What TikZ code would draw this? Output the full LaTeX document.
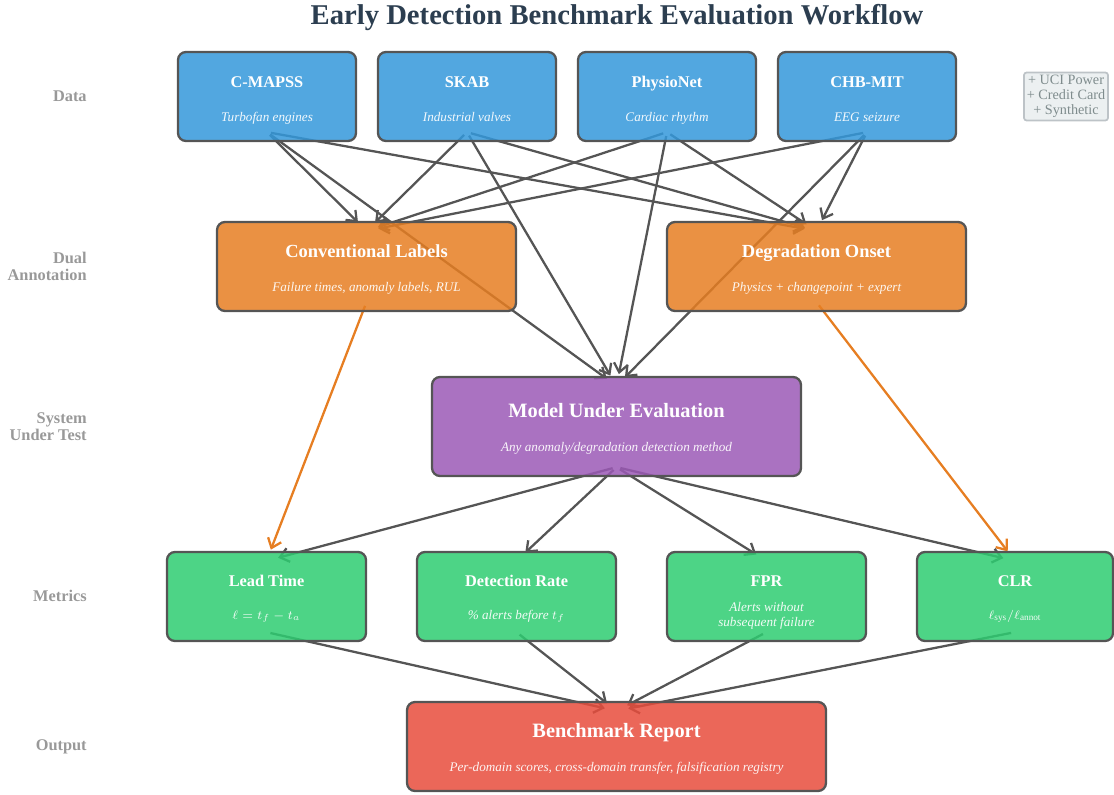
\documentclass[tikz,border=0pt]{standalone}
\usepackage{fontspec}
\setmainfont{Liberation Serif}
\usetikzlibrary{positioning, arrows.meta}
\pgfdeclarelayer{background}
\pgfsetlayers{background,main}

\definecolor{dataBlue}{HTML}{3498DB}
\definecolor{annotOrange}{HTML}{E67E22}
\definecolor{modelPurple}{HTML}{9B59B6}
\definecolor{metricGreen}{HTML}{2ECC71}
\definecolor{reportRed}{HTML}{E74C3C}
\definecolor{edgeGray}{HTML}{555555}
\definecolor{titleNavy}{HTML}{2C3E50}
\definecolor{rowGray}{HTML}{999999}
\definecolor{noteFill}{HTML}{ECF0F1}
\definecolor{noteEdge}{HTML}{BDC3C7}
\definecolor{noteText}{HTML}{7F8C8D}

\begin{document}
\begin{tikzpicture}[
		x=0.02cm, y=-0.02cm,
		box/.style={draw=edgeGray, line width=1.3pt, rounded corners=4.5pt, fill opacity=0.85, minimum height=1.78cm},
		dataset/.style={box, fill=dataBlue, minimum width=3.56cm},
		annot/.style={box, fill=annotOrange, minimum width=5.98cm},
		model/.style={box, fill=modelPurple, minimum width=7.38cm, minimum height=1.98cm},
		metric/.style={box, fill=metricGreen, minimum width=3.98cm},
		report/.style={box, fill=reportRed, minimum width=8.38cm},
		head/.style={anchor=base, text=white, inner sep=0pt, font=\fontsize{9.3}{11}\selectfont\bfseries},
		bighead/.style={head, font=\fontsize{10.5}{12}\selectfont\bfseries},
		hugehead/.style={head, font=\fontsize{11.6}{13}\selectfont\bfseries},
		sub/.style={anchor=base, text=white, text opacity=0.92, inner sep=0pt, align=center, font=\fontsize{7.5}{8.6}\selectfont\itshape},
		rowlabel/.style={anchor=east, align=right, inner sep=0pt, text=rowGray, font=\fontsize{9.3}{9.7}\selectfont\bfseries},
		flow/.style={draw=edgeGray, line width=1.3pt, -{Straight Barb[length=5pt,width=8pt]}, shorten <=0.08cm, shorten >=0.24cm},
		annflow/.style={flow, draw=annotOrange}
		]
		\useasboundingbox (0,0) rectangle (1114,794);
		
		% --- Title and row labels ---
		\node[text=titleNavy, font=\fontsize{16.3}{18}\selectfont\bfseries] (title) at (617,17.5) {Early Detection Benchmark Evaluation Workflow};
		\node[rowlabel] (row-data) at (87,96.5) {Data};
		\node[rowlabel] (row-annot) at (87,266) {Dual\\Annotation};
		\node[rowlabel] (row-sut) at (87,426.5) {System\\Under Test};
		\node[rowlabel] (row-metric) at (87,595.5) {Metrics};
		\node[rowlabel] (row-out) at (87,746.5) {Output};
		
		% --- Data Level ---
		\node[dataset] (cmapss) at (267,96.5) {};
		\node[head] (cmapss-t) at ([yshift=0.18cm]cmapss) {C-MAPSS};
		\node[sub] (cmapss-s) at ([yshift=-0.5cm]cmapss) {Turbofan engines};
		\node[dataset] (skab) at (467,96.5) {};
		\node[head] (skab-t) at ([yshift=0.18cm]skab) {SKAB};
		\node[sub] (skab-s) at ([yshift=-0.5cm]skab) {Industrial valves};
		\node[dataset] (physio) at (667,96.5) {};
		\node[head] (physio-t) at ([yshift=0.18cm]physio) {PhysioNet};
		\node[sub] (physio-s) at ([yshift=-0.5cm]physio) {Cardiac rhythm};
		\node[dataset] (chbmit) at (867,96.5) {};
		\node[head] (chbmit-t) at ([yshift=0.18cm]chbmit) {CHB-MIT};
		\node[sub] (chbmit-s) at ([yshift=-0.5cm]chbmit) {EEG seizure};
		\node[draw=noteEdge, fill=noteFill, line width=1pt, rounded corners=1.5pt, align=center, inner sep=1.6pt,
		text=noteText, font=\fontsize{8.1}{8.5}\selectfont] (others) at (1066,96.5) {+ UCI Power\\+ Credit Card\\+ Synthetic};
		
		% --- Annotation Level ---
		\node[annot] (conv) at (366.5,266.5) {};
		\node[bighead] (conv-t) at ([yshift=0.18cm]conv) {Conventional Labels};
		\node[sub] (conv-s) at ([yshift=-0.5cm]conv) {Failure times, anomaly labels, RUL};
		\node[annot] (onset) at (816.5,266.5) {};
		\node[bighead] (onset-t) at ([yshift=0.18cm]onset) {Degradation Onset};
		\node[sub] (onset-s) at ([yshift=-0.5cm]onset) {Physics + changepoint + expert};
		
		% --- System Under Test ---
		\node[model] (model) at (616.5,426.5) {};
		\node[hugehead] (model-t) at ([yshift=0.19cm]model) {Model Under Evaluation};
		\node[sub] (model-s) at ([yshift=-0.5cm]model) {Any anomaly/degradation detection method};
		
		% --- Metrics ---
		\node[metric] (lead) at (266.5,596.5) {};
		\node[head] (lead-t) at ([yshift=0.2cm]lead) {Lead Time};
		\node[sub] (lead-s) at ([yshift=-0.45cm]lead) {$\ell = t_f - t_a$};
		\node[metric] (detect) at (516.5,596.5) {};
		\node[head] (detect-t) at ([yshift=0.2cm]detect) {Detection Rate};
		\node[sub] (detect-s) at ([yshift=-0.45cm]detect) {\% alerts before $t_f$};
		\node[metric] (fpr) at (766.5,596.5) {};
		\node[head] (fpr-t) at ([yshift=0.2cm]fpr) {FPR};
		\node[sub] (fpr-s) at ([yshift=-0.6cm]fpr) {Alerts without\\subsequent failure};
		\node[metric, minimum width=3.92cm] (clr) at (1015,596.5) {};
		\node[head] (clr-t) at ([yshift=0.2cm]clr) {CLR};
		\node[sub] (clr-s) at ([yshift=-0.45cm]clr) {$\ell_{\mathrm{sys}}/\ell_{\mathrm{annot}}$};
		
		% --- Output ---
		\node[report] (report) at (616.5,746.5) {};
		\node[hugehead] (report-t) at ([yshift=0.18cm]report) {Benchmark Report};
		\node[sub] (report-s) at ([yshift=-0.5cm]report) {Per-domain scores, cross-domain transfer, falsification registry};
		
		% --- Connectors (behind the boxes) ---
		\begin{pgfonlayer}{background}
		\draw[flow] ([yshift=2mm]cmapss.south) -- ([yshift=-2mm]conv.north);
		\draw[flow] ([yshift=2mm]cmapss.south) -- ([yshift=-2mm]onset.north);
		\draw[flow] ([yshift=2mm]cmapss.south) -- ([yshift=-2mm]model.north);
		\draw[flow] ([yshift=2mm]skab.south) -- ([yshift=-2mm]conv.north);
		\draw[flow] ([yshift=2mm]skab.south) -- ([yshift=-2mm]onset.north);
		\draw[flow] ([yshift=2mm]skab.south) -- ([yshift=-2mm]model.north);
		\draw[flow] ([yshift=2mm]physio.south) -- ([yshift=-2mm]conv.north);
		\draw[flow] ([yshift=2mm]physio.south) -- ([yshift=-2mm]onset.north);
		\draw[flow] ([yshift=2mm]physio.south) -- ([yshift=-2mm]model.north);
		\draw[flow] ([yshift=2mm]chbmit.south) -- ([yshift=-2mm]conv.north);
		\draw[flow] ([yshift=2mm]chbmit.south) -- ([yshift=-2mm]onset.north);
		\draw[flow] ([yshift=2mm]chbmit.south) -- ([yshift=-2mm]model.north);
		
		\draw[annflow] ([yshift=2mm]conv.south) -- ([yshift=-2mm]lead.north);
		\draw[annflow] ([yshift=2mm]onset.south) -- ([yshift=-2mm]clr.north);
		
		\draw[flow] ([yshift=2mm]model.south) -- ([yshift=-2mm]lead.north);
		\draw[flow] ([yshift=2mm]model.south) -- ([yshift=-2mm]detect.north);
		\draw[flow] ([yshift=2mm]model.south) -- ([yshift=-2mm]fpr.north);
		\draw[flow] ([yshift=2mm]model.south) -- ([yshift=-2mm]clr.north);
		
		\draw[flow] ([yshift=2mm]lead.south) -- ([yshift=-2mm]report.north);
		\draw[flow] ([yshift=2mm]detect.south) -- ([yshift=-2mm]report.north);
		\draw[flow] ([yshift=2mm]fpr.south) -- ([yshift=-2mm]report.north);
		\draw[flow] ([yshift=2mm]clr.south) -- ([yshift=-2mm]report.north);
		\end{pgfonlayer}
		
	\end{tikzpicture}
\end{document}
